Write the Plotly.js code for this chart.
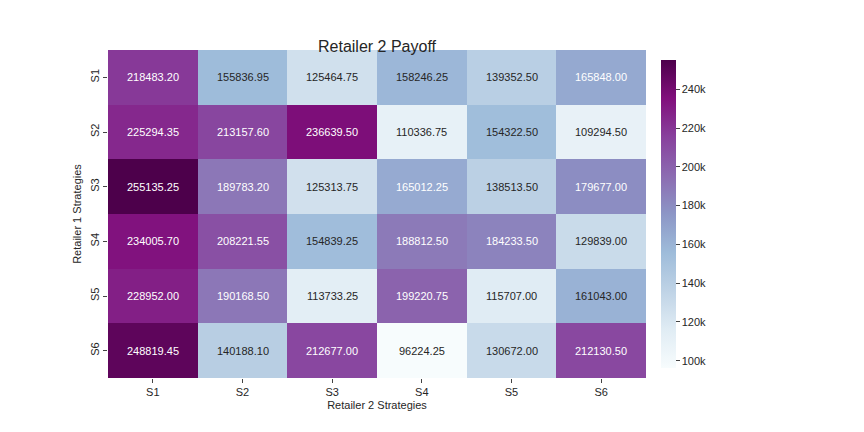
<!DOCTYPE html>
<html>
<head>
<script src="https://cdn.plot.ly/plotly-3.0.1.min.js"></script>
<style>body{margin:0;background:#fff}</style>
</head>
<body>
<div id="heat" style="width:864px;height:432px"></div>
<script>
var strategies1 = ['S1','S2','S3','S4','S5','S6'];
var strategies2 = ['S1','S2','S3','S4','S5','S6'];
var payoff = [
    [218483.20, 155836.95, 125464.75, 158246.25, 139352.50, 165848.00],
    [225294.35, 213157.60, 236639.50, 110336.75, 154322.50, 109294.50],
    [255135.25, 189783.20, 125313.75, 165012.25, 138513.50, 179677.00],
    [234005.70, 208221.55, 154839.25, 188812.50, 184233.50, 129839.00],
    [228952.00, 190168.50, 113733.25, 199220.75, 115707.00, 161043.00],
    [248819.45, 140188.10, 212677.00, 96224.25, 130672.00, 212130.50]
];

var bupu = [
    [0, '#f7fcfd'], [0.125, '#e0ecf4'], [0.25, '#bfd3e6'], [0.375, '#9ebcda'],
    [0.5, '#8c96c6'], [0.625, '#8c6bb1'], [0.75, '#88419d'], [0.875, '#810f7c'], [1, '#4d004b']
];

var anotaciones = [];
for (var i = 0; i < strategies1.length; i++) {
    for (var j = 0; j < strategies2.length; j++) {
        var v = payoff[i][j];
        anotaciones.push({
            x: strategies2[j], y: strategies1[i], xref: 'x', yref: 'y',
            text: v.toFixed(2), showarrow: false,
            font: {family: 'Liberation Sans, Arial', size: 11, color: v > 163000 ? '#ffffff' : '#262626'}
        });
    }
}

var data = [{
    type: 'heatmap',
    x: strategies2,
    y: strategies1,
    z: payoff,
    colorscale: bupu,
    xgap: 0, ygap: 0,
    colorbar: {
        x: 1.01, xanchor: 'left', thickness: 15, len: 1, y: 0.5, yanchor: 'middle',
        outlinewidth: 0, ticks: 'outside', ticklen: 4,
        tickvals: [100000,120000,140000,160000,180000,200000,220000,240000],
        tickfont: {size: 11, color: '#262626'}
    }
}];

var layout = {
    width: 864, height: 432,
    margin: {l: 108, r: 218, t: 50, b: 54},
    paper_bgcolor: '#fff', plot_bgcolor: '#fff',
    font: {family: 'Liberation Sans, Arial', color: '#262626'},
    title: {text: 'Retailer 2 Payoff', x: 0.5 * 538 / 864 + 108 / 864, xanchor: 'center', y: 0.905, font: {size: 16}},
    xaxis: {
        title: {text: 'Retailer 2 Strategies', font: {size: 11}, standoff: 4},
        ticks: 'outside', ticklen: 4, tickfont: {size: 11}, showgrid: false, zeroline: false
    },
    yaxis: {
        title: {text: 'Retailer 1 Strategies', font: {size: 11}, standoff: 4},
        autorange: 'reversed', tickangle: -90,
        ticks: 'outside', ticklen: 4, tickfont: {size: 11}, showgrid: false, zeroline: false
    },
    annotations: anotaciones
};

Plotly.newPlot('heat', data, layout, {displayModeBar: false});
</script>
</body>
</html>
